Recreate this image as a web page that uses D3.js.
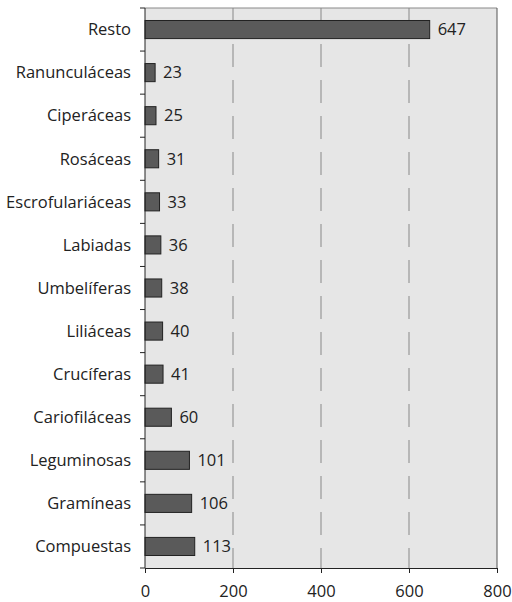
<!DOCTYPE html>
<html lang="es">
<head>
  <meta charset="UTF-8">
  <title>Familias</title>
  <script src="https://d3js.org/d3.v7.min.js"></script>
  <style>
    * { margin: 0; padding: 0; box-sizing: border-box; }
    body { background: #fff; font-family: "Open Sans", sans-serif; }
  </style>
</head>
<body>
  <div id="chart"></div>
  <script>
    const familias = ["Resto", "Ranunculáceas", "Ciperáceas", "Rosáceas", "Escrofulariáceas",
                      "Labiadas", "Umbelíferas", "Liliáceas", "Crucíferas", "Cariofiláceas",
                      "Leguminosas", "Gramíneas", "Compuestas"];
    const especies = [647, 23, 25, 31, 33, 36, 38, 40, 41, 60, 101, 106, 113];
    const xTicks = [0, 200, 400, 600, 800];

    const data = familias.map((f, i) => ({ familia: f, valor: especies[i] }));

    const margin = {top: 8, right: 15, bottom: 34, left: 145},
          width = 512 - margin.left - margin.right,
          height = 602 - margin.top - margin.bottom;

    const svg = d3.select("#chart")
                  .append("svg")
                  .attr("width", 512)
                  .attr("height", 602)
                  .append("g")
                  .attr("transform", `translate(${margin.left},${margin.top})`);

    const x = d3.scaleLinear()
                .domain([0, 800])
                .range([0, width]);

    const y = d3.scaleBand()
                .domain(familias)
                .range([0, height])
                .paddingInner(0.58)
                .paddingOuter(0.29);

    // fondo
    svg.append("rect")
      .attr("width", width)
      .attr("height", height)
      .attr("fill", "#e6e6e6");

    svg.append("line")
      .attr("x1", 0).attr("x2", width)
      .attr("y1", 0).attr("y2", 0)
      .attr("stroke", "#888");
    svg.append("line")
      .attr("x1", width).attr("x2", width)
      .attr("y1", 0).attr("y2", height)
      .attr("stroke", "#555");

    // rejilla
    svg.selectAll(".grid")
      .data(xTicks.slice(1, -1))
      .enter()
      .append("line")
      .attr("x1", d => x(d)).attr("x2", d => x(d))
      .attr("y1", 0).attr("y2", height)
      .attr("stroke", "#888")
      .attr("stroke-dasharray", "23,13");

    // barras
    svg.selectAll(".bar")
      .data(data)
      .enter()
      .append("rect")
      .attr("x", 0)
      .attr("y", d => y(d.familia))
      .attr("width", d => x(d.valor))
      .attr("height", y.bandwidth())
      .attr("fill", "#5a5a5a")
      .attr("stroke", "#222")
      .attr("stroke-width", 1);

    svg.selectAll(".label")
      .data(data)
      .enter()
      .append("text")
      .attr("x", d => x(d.valor) + 8)
      .attr("y", d => y(d.familia) + y.bandwidth() / 2)
      .attr("dy", "0.35em")
      .style("font-size", "16.5px")
      .attr("fill", "#222")
      .text(d => d.valor);

    // eje y
    const yAxis = svg.append("g");
    yAxis.append("line")
      .attr("x1", 0).attr("x2", 0)
      .attr("y1", 0).attr("y2", height)
      .attr("stroke", "#222");
    yAxis.selectAll(".tick")
      .data(d3.range(familias.length + 1))
      .enter()
      .append("line")
      .attr("x1", -5).attr("x2", 0)
      .attr("y1", i => i * height / familias.length)
      .attr("y2", i => i * height / familias.length)
      .attr("stroke", "#222");
    yAxis.selectAll(".ylab")
      .data(familias)
      .enter()
      .append("text")
      .attr("x", -14)
      .attr("y", d => y(d) + y.bandwidth() / 2)
      .attr("dy", "0.35em")
      .attr("text-anchor", "end")
      .style("font-size", "16.5px")
      .attr("fill", "#222")
      .text(d => d);

    // eje x
    svg.append("g")
      .attr("transform", `translate(0, ${height})`)
      .call(d3.axisBottom(x).tickValues(xTicks).tickSize(5).tickPadding(12))
      .call(g => g.select(".domain").attr("stroke", "#222"))
      .call(g => g.selectAll("line").attr("stroke", "#222"))
      .call(g => g.selectAll("text")
                  .style("font-size", "16.5px")
                  .style("font-family", "'Open Sans', sans-serif")
                  .attr("fill", "#222"));
  </script>
</body>
</html>
